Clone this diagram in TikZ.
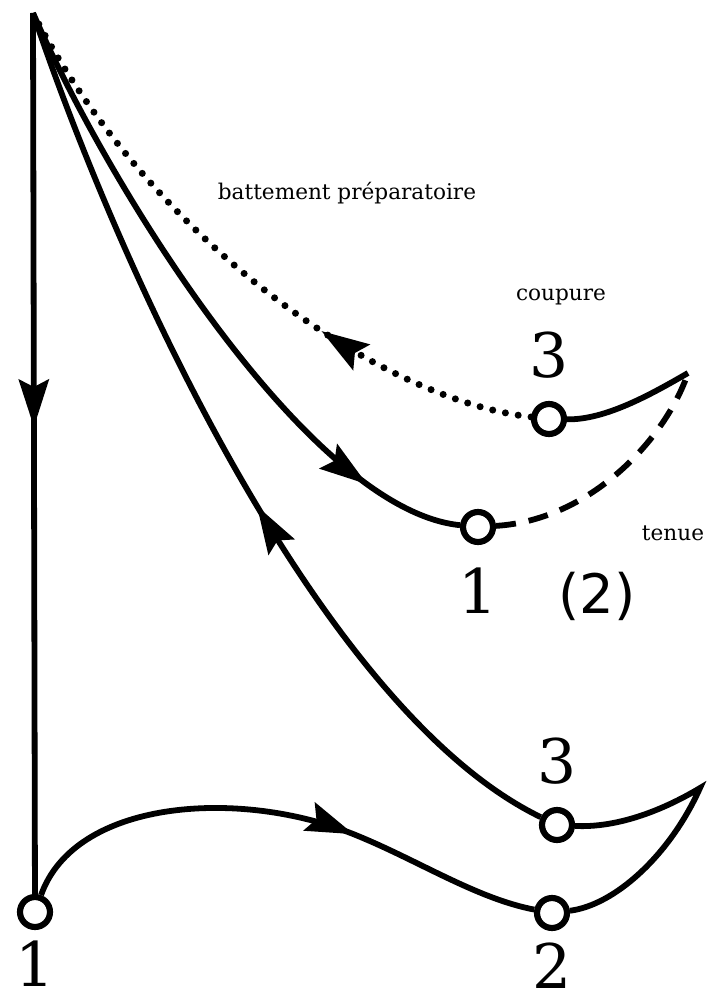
\documentclass[tikz,border=0pt]{standalone}
\usepackage{fontspec}
\setmainfont{DejaVu Serif}
\newfontfamily\parenfont{DejaVu Sans}
\usetikzlibrary{arrows.meta,positioning,decorations.markings}

\begin{document}
\begin{tikzpicture}[
  x=0.02cm, y=-0.02cm,
  node distance=0.44cm,
  curve/.style={line width=3.3pt},
  beat/.style={circle,draw,line width=3.5pt,fill=white,minimum size=0.6cm,inner sep=0pt},
  digit/.style={inner sep=0pt,font=\fontsize{35}{35}\selectfont},
  word/.style={inner sep=0pt,anchor=base,font=\fontsize{12.3}{14}\selectfont},
  midarrow/.style={postaction={decorate,decoration={markings,
    mark=at position #1 with {\arrow{Stealth[length=0.95cm,width=0.6cm,inset=0.15cm]}}}}},
  dotline/.style={line width=4pt,line cap=round,dash pattern=on 0pt off 0.26cm},
  dashline/.style={line width=3.3pt,dash pattern=on 0.4cm off 0.26cm}
]
\useasboundingbox (0,0) rectangle (710,1003);

% beat points
\coordinate (apex) at (33,13);
\coordinate (tipA) at (688,373);
\coordinate (tipB) at (700,788);
\node[beat] (p1) at (35,912) {};
\node[beat] (p2) at (552,913) {};
\node[beat] (p3) at (557,825) {};
\node[beat] (q1) at (478,527) {};
\node[beat] (q3) at (549,419) {};

% numbers
\node[digit,below=0.2cm of p1] (n1) {1};
\node[digit,below=0.22cm of p2] (n2) {2};
\node[digit,above=of p3] (n3) {3};
\node[digit,below=of q1] (m1) {1};
\node[digit,above=of q3] (m3) {3};
\node[digit,font=\parenfont\fontsize{31}{31}\selectfont,base right=1.2cm of m1] (m2) {(2)};

% words
\node[word] (prep) at (347,200) {battement préparatoire};
\node[word] (cut) at (561,300) {coupure};
\node[word] (hold) at (673,540) {tenue};

% paths
\draw[curve,midarrow=0.47] (apex) -- (p1);
\draw[curve,midarrow=0.64] (p1) .. controls (75,800) and (236,789) .. (348,832)
  .. controls (413,857) and (474,898) .. (p2);
\draw[curve] (p2) .. controls (615,905) and (670,855) .. (tipB)
  .. controls (660,812) and (615,828) .. (p3);
\draw[curve,midarrow=0.44] (p3) .. controls (330,715) and (130,300) .. (apex);
\draw[curve,midarrow=0.85] (apex) .. controls (110,190) and (310,510) .. (q1);
\draw[dashline] (q1) .. controls (590,520) and (665,440) .. (tipA);
\draw[curve] (tipA) .. controls (650,395) and (605,420) .. (q3);
\draw[dotline,midarrow=0.345] (q3) .. controls (380,400) and (150,240) .. (apex);
\end{tikzpicture}
\end{document}
